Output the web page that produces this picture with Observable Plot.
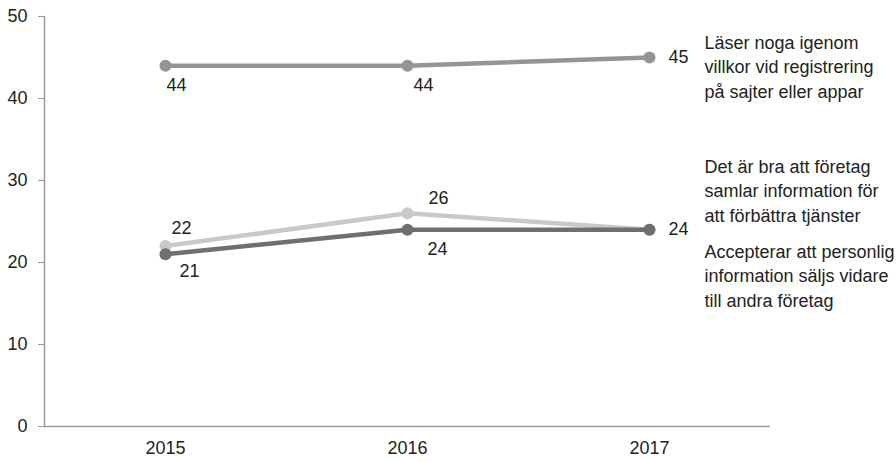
<!DOCTYPE html>
<html>
<head>
<meta charset="utf-8">
<script src="https://cdn.jsdelivr.net/npm/d3@7"></script>
<script src="https://cdn.jsdelivr.net/npm/@observablehq/plot@0.6"></script>
<style>
  html, body { margin: 0; padding: 0; background: #fff; }
  #chart svg { display: block; }
</style>
</head>
<body>
<div id="chart"></div>
<script>
const years = [2015, 2016, 2017];
const seriesNames = [
  "Läser noga igenom\nvillkor vid registrering\npå sajter eller appar",
  "Det är bra att företag\nsamlar information för\natt förbättra tjänster",
  "Accepterar att personlig\ninformation säljs vidare\ntill andra företag"
];
const readTerms = [44, 44, 45];
const goodCollect = [22, 26, 24];
const acceptSell = [21, 24, 24];
const yTicks = [0, 10, 20, 30, 40, 50];

const seriesValues = [readTerms, goodCollect, acceptSell];
const colors = ["#949598", "#c9c9c9", "#6e6f72"];

const rows = seriesValues.map((vals, s) => years.map((y, i) => ({year: y, value: vals[i], s})));

// value label offsets (px) per series/point
const valueLabelOffsets = [
  [[11, 20], [16, 20], [29, 0]],
  [[16, -18], [31, -15], null],
  [[24, 17], [30, 20], [29, 0]]
];
// series label vertical offsets relative to last point
const seriesLabelDy = [8, -40, 45];

const marks = [];
marks.push(Plot.ruleY([0], {stroke: "#9a9a9a", strokeWidth: 1.5}));
marks.push(Plot.axisY({ticks: yTicks, tickSize: 6, tickPadding: 11, stroke: "#9a9a9a", fill: "#222", fontSize: 18, label: null}));
marks.push(Plot.axisX({tickSize: 0, tickPadding: 15, tickFormat: "d", fill: "#222", fontSize: 18, label: null}));
marks.push(Plot.frame({anchor: "left", stroke: "#9a9a9a", strokeWidth: 1.5}));

rows.forEach((data, s) => {
  marks.push(Plot.line(data, {x: "year", y: "value", stroke: colors[s], strokeWidth: 4.5}));
  marks.push(Plot.dot(data, {x: "year", y: "value", r: 6, fill: colors[s], stroke: "none"}));
});

rows.forEach((data, s) => {
  data.forEach((d, i) => {
    const off = valueLabelOffsets[s][i];
    if (!off) return;
    marks.push(Plot.text([d], {x: "year", y: "value", text: d => String(d.value), dx: off[0], dy: off[1], fill: "#222", fontSize: 18, textAnchor: "middle"}));
  });
  const last = data[data.length - 1];
  marks.push(Plot.text([last], {x: "year", y: "value", text: () => seriesNames[s], dx: 55, dy: seriesLabelDy[s], fill: "#222", fontSize: 18, textAnchor: "start", lineAnchor: "middle", lineHeight: 1.35}));
});

const chart = Plot.plot({
  width: 896,
  height: 462,
  marginLeft: 44,
  marginRight: 126,
  marginTop: 16,
  marginBottom: 36,
  style: {fontFamily: "'Liberation Sans', Arial, sans-serif", background: "#fff", overflow: "visible"},
  x: {type: "point", domain: years, padding: 0.5},
  y: {domain: [0, 50]},
  marks
});
document.getElementById("chart").appendChild(chart);
</script>
</body>
</html>
